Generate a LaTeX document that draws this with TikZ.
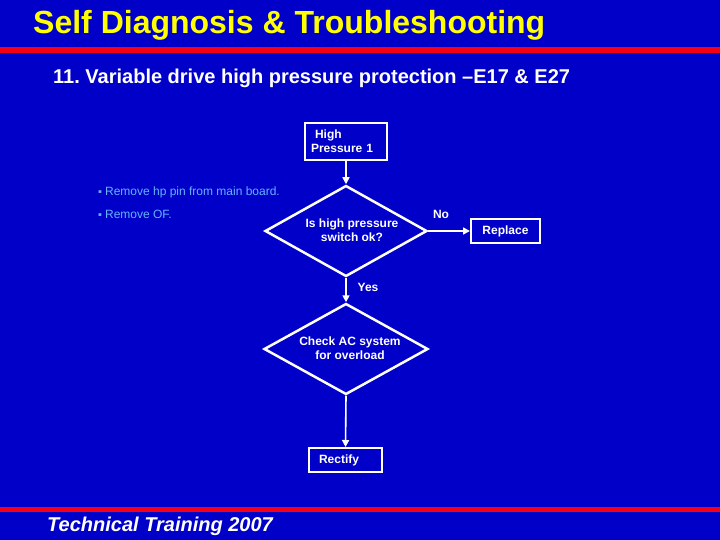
\documentclass[tikz,border=0pt]{standalone}
\usepackage{fontspec}
\setmainfont{Liberation Sans}
\usetikzlibrary{shapes.geometric,arrows.meta}
\definecolor{bgblue}{RGB}{0,0,200}
\definecolor{barred}{RGB}{245,0,20}
\definecolor{titleyellow}{RGB}{255,255,0}
\definecolor{notecol}{RGB}{100,180,255}
\tikzset{
  boxnode/.style={draw=white, line width=2pt, rectangle, inner ysep=0pt, text=white, font=\fontsize{12}{14}\selectfont\bfseries},
  decnode/.style={draw=white, line width=2.5pt, diamond, inner sep=0pt},
  flowtext/.style={text=white, font=\fontsize{12}{14}\selectfont\bfseries, align=center, inner sep=0pt},
  conn/.style={draw=white, line width=1.6pt, -{Triangle[length=7pt,width=7pt]}},
  note/.style={text=notecol, font=\fontsize{12}{14}\selectfont, anchor=west, inner sep=0pt},
}
\begin{document}
\frenchspacing
\begin{tikzpicture}[x=1pt,y=-1pt]
\fill[bgblue] (0,0) rectangle (720,540);
\useasboundingbox (0,0) rectangle (720,540);
% bars
\fill[barred] (0,47) rectangle (720,53.5);
\fill[barred] (0,507) rectangle (720,511.5);
% titles
\node[anchor=base west, inner sep=0pt, text=titleyellow, font=\fontsize{32}{38}\selectfont\bfseries] (title) at (33,34) {Self Diagnosis \& Troubleshooting};
\node[anchor=base west, inner sep=0pt, text=white, font=\fontsize{20}{24}\selectfont\bfseries] (subtitle) at (53,84) {11. Variable drive high pressure protection –E17 \& E27};
\node[anchor=base west, inner sep=0pt, text=white, font=\fontsize{20}{24}\selectfont\bfseries\itshape] (footer) at (47,531) {Technical Training 2007};
% notes
\node[note] (n1) at (98,192) {{\fontsize{11}{11}\selectfont ▪}\hspace{3pt}Remove hp pin from main board.};
\node[note] (n2) at (98,214) {{\fontsize{11}{11}\selectfont ▪}\hspace{3pt}Remove OF.};
% flowchart
\node[boxnode, text width=70pt, inner xsep=6pt, minimum height=37pt, align=left] (hp) at (346,141.5) {\hspace*{4pt}High\\Pressure 1};
\node[decnode, minimum width=162pt, minimum height=91pt] (d1) at (346,231) {};
\node[flowtext] (t1) at (352,230) {Is high pressure\\switch ok?};
\node[boxnode, minimum width=69pt, minimum height=24pt] (rep) at (505.5,231) {Replace};
\node[decnode, minimum width=164pt, minimum height=91pt] (d2) at (346,349) {};
\node[flowtext] (t2) at (350,348) {Check AC system\\for overload};
\node[boxnode, text width=53pt, inner xsep=10pt, minimum height=24pt, align=left] (rect) at (345.5,460) {Rectify};
\draw[conn] (hp.south) -- (d1.north);
\draw[conn] (d1.east) -- (rep.west);
\draw[conn] (d1.south) -- (d2.north);
\draw[conn] (d2.south) -- (rect.north);
\node[flowtext] (no) at (441,214) {No};
\node[flowtext] (yes) at (368,287) {Yes};
\end{tikzpicture}
\end{document}
